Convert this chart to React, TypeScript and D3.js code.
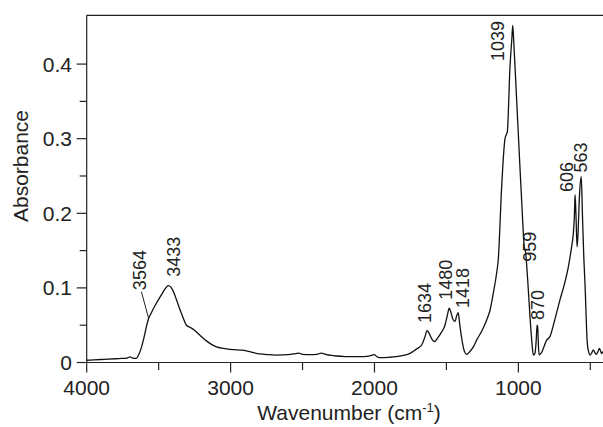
import React, { useEffect, useRef } from "react";
import * as d3 from "d3";

// spectrum (wavenumber cm-1, absorbance)
const wavenumbers = [
  4000, 3950, 3900, 3850, 3800, 3760, 3720, 3700, 3680, 3655, 3640, 3620, 3600, 3585, 3570,
  3555, 3520, 3480, 3450, 3433, 3415, 3395, 3376, 3350, 3330, 3307, 3280, 3249, 3210, 3168,
  3130, 3098, 3050, 3006, 2950, 2916, 2850, 2798, 2740, 2682, 2600, 2545, 2527, 2500, 2451,
  2400, 2370, 2340, 2300, 2266, 2200, 2105, 2040, 2001, 1985, 1966, 1900, 1850, 1800, 1753,
  1730, 1700, 1672, 1650, 1634, 1620, 1600, 1582, 1560, 1533, 1510, 1495, 1480, 1470, 1455,
  1440, 1430, 1418, 1408, 1390, 1375, 1360, 1340, 1310, 1290, 1255, 1220, 1197, 1174, 1151,
  1140, 1116, 1093, 1085, 1077, 1058, 1045, 1039, 1032, 1012, 989, 970, 962, 959, 950,
  935, 919, 905, 896, 885, 876, 870, 866, 860, 855, 840, 803, 780, 750, 711,
  680, 653, 630, 618, 610, 606, 600, 592, 585, 575, 563, 555, 545, 537, 521,
  510, 502, 490, 479, 470, 460, 448, 437, 428, 421, 410, 400,
];
const absorbance = [
  0.003, 0.0035, 0.004, 0.0045, 0.005, 0.0055, 0.006, 0.0075, 0.006, 0.0055, 0.01, 0.02, 0.035, 0.048, 0.059,
  0.065, 0.078, 0.091, 0.1, 0.103, 0.101, 0.094, 0.084, 0.07, 0.06, 0.05, 0.047, 0.043, 0.036, 0.029,
  0.024, 0.021, 0.019, 0.0177, 0.0168, 0.0165, 0.0135, 0.0115, 0.0105, 0.01, 0.0105, 0.012, 0.0125, 0.011, 0.0105,
  0.011, 0.0125, 0.011, 0.0095, 0.0087, 0.008, 0.0078, 0.0085, 0.0105, 0.008, 0.0065, 0.007, 0.0078, 0.0095, 0.0123,
  0.015, 0.019, 0.0235, 0.034, 0.0426, 0.039, 0.031, 0.028, 0.033, 0.041, 0.05, 0.062, 0.0727, 0.068, 0.058,
  0.055, 0.062, 0.0668, 0.052, 0.028, 0.015, 0.011, 0.014, 0.022, 0.03, 0.042, 0.057, 0.07, 0.093, 0.12,
  0.137, 0.236, 0.3, 0.305, 0.309, 0.397, 0.435, 0.452, 0.43, 0.352, 0.262, 0.19, 0.162, 0.155, 0.148,
  0.11, 0.061, 0.025, 0.01, 0.012, 0.03, 0.05, 0.048, 0.02, 0.01, 0.013, 0.03, 0.035, 0.055, 0.084,
  0.105, 0.128, 0.155, 0.173, 0.2, 0.225, 0.2, 0.155, 0.175, 0.225, 0.249, 0.2, 0.14, 0.106, 0.026,
  0.013, 0.01, 0.013, 0.017, 0.014, 0.011, 0.014, 0.019, 0.015, 0.012, 0.015, 0.017,
];

// peak annotations: label text, where the label sits (wavenumber, absorbance at its bottom end)
const peakLabels = ["3564", "3433", "1634", "1480", "1418", "1039", "959", "870", "606", "563"];
const labelWn = [3630, 3395, 1650, 1505, 1387, 1144, 922, 867, 666, 569];
const labelAbs = [0.097, 0.115, 0.053, 0.084, 0.073, 0.404, 0.135, 0.057, 0.2285, 0.2547];

// leader line for the 3564 shoulder
const leaderWn = [3620, 3570];
const leaderAbs = [0.095, 0.0594];

const xMajor = [4000, 3000, 2000, 1000];
const xMinor = [3500, 2500, 1500, 500];
const yMajor = [0, 0.1, 0.2, 0.3, 0.4];
const yMinor = [0.05, 0.15, 0.25, 0.35];

function App() {
  const ref = useRef<SVGSVGElement>(null);

  useEffect(() => {
    const svg = d3.select(ref.current);
    svg.selectAll("*").remove();

    const width = 603;
    const left = 86.7;
    const top = 15.3;
    const bottom = 362.5;
    const font = "'Liberation Sans', Arial, sans-serif";
    const ink = "#222";

    const x = d3.scaleLinear().domain([4000, 400]).range([left, 604.7]);
    const y = d3.scaleLinear().domain([0, 0.4654]).range([bottom, top]);

    const g = svg.append("g");

    // frame: left axis + top line + bottom axis
    g.append("line")
      .attr("x1", left).attr("x2", width + 2)
      .attr("y1", top).attr("y2", top)
      .attr("stroke", ink).attr("stroke-width", 1.2);
    g.append("line")
      .attr("x1", left).attr("x2", left)
      .attr("y1", top).attr("y2", bottom)
      .attr("stroke", ink).attr("stroke-width", 1.2);
    g.append("line")
      .attr("x1", left).attr("x2", width + 2)
      .attr("y1", bottom).attr("y2", bottom)
      .attr("stroke", ink).attr("stroke-width", 1.2);

    // x ticks
    g.selectAll("line.xmaj")
      .data(xMajor)
      .join("line")
      .attr("class", "xmaj")
      .attr("x1", d => x(d)).attr("x2", d => x(d))
      .attr("y1", bottom).attr("y2", bottom + 10)
      .attr("stroke", ink).attr("stroke-width", 1.2);
    g.selectAll("line.xmin")
      .data(xMinor)
      .join("line")
      .attr("class", "xmin")
      .attr("x1", d => x(d)).attr("x2", d => x(d))
      .attr("y1", bottom).attr("y2", bottom + 7.5)
      .attr("stroke", ink).attr("stroke-width", 1.2);
    g.selectAll("text.xlab")
      .data(xMajor)
      .join("text")
      .attr("class", "xlab")
      .attr("x", d => x(d))
      .attr("y", 395)
      .attr("text-anchor", "middle")
      .attr("font-family", font)
      .attr("font-size", 21)
      .attr("fill", ink)
      .text(d => d);

    // y ticks
    g.selectAll("line.ymaj")
      .data(yMajor)
      .join("line")
      .attr("class", "ymaj")
      .attr("x1", left - 10).attr("x2", left)
      .attr("y1", d => y(d)).attr("y2", d => y(d))
      .attr("stroke", ink).attr("stroke-width", 1.2);
    g.selectAll("line.ymin")
      .data(yMinor)
      .join("line")
      .attr("class", "ymin")
      .attr("x1", left - 7).attr("x2", left)
      .attr("y1", d => y(d)).attr("y2", d => y(d))
      .attr("stroke", ink).attr("stroke-width", 1.2);
    g.selectAll("text.ylab")
      .data(yMajor)
      .join("text")
      .attr("class", "ylab")
      .attr("x", 72)
      .attr("y", d => y(d))
      .attr("dy", "0.36em")
      .attr("text-anchor", "end")
      .attr("font-family", font)
      .attr("font-size", 21)
      .attr("fill", ink)
      .text(d => (d === 0 ? "0" : d3.format(".1f")(d)));

    // axis titles
    const xt = g.append("text")
      .attr("x", 349)
      .attr("y", 420)
      .attr("text-anchor", "middle")
      .attr("font-family", font)
      .attr("font-size", 21)
      .attr("fill", ink);
    xt.append("tspan").text("Wavenumber (cm");
    xt.append("tspan").attr("dy", -8).attr("font-size", 13).text("-1");
    xt.append("tspan").attr("dy", 8).text(")");

    g.append("text")
      .attr("transform", "translate(28,166) rotate(-90)")
      .attr("text-anchor", "middle")
      .attr("font-family", font)
      .attr("font-size", 21)
      .attr("fill", ink)
      .text("Absorbance");

    // spectrum
    const pts = wavenumbers.map((w, i) => [w, absorbance[i]] as [number, number]);
    const line = d3.line<[number, number]>()
      .x(d => x(d[0]))
      .y(d => y(d[1]))
      .curve(d3.curveMonotoneX);
    g.append("path")
      .datum(pts)
      .attr("d", line)
      .attr("fill", "none")
      .attr("stroke", "#111")
      .attr("stroke-width", 1.3)
      .attr("stroke-linejoin", "round");

    // leader
    g.append("line")
      .attr("x1", x(leaderWn[0])).attr("y1", y(leaderAbs[0]))
      .attr("x2", x(leaderWn[1])).attr("y2", y(leaderAbs[1]))
      .attr("stroke", ink).attr("stroke-width", 1);

    // peak labels
    g.selectAll("text.peak")
      .data(peakLabels)
      .join("text")
      .attr("class", "peak")
      .attr("transform", (d, i) => `translate(${x(labelWn[i])},${y(labelAbs[i])}) rotate(-90)`)
      .attr("dy", "0.36em")
      .attr("text-anchor", "start")
      .attr("font-family", font)
      .attr("font-size", 18)
      .attr("fill", ink)
      .text(d => d);
  }, []);

  return (
    <svg
      ref={ref}
      width={603}
      height={427}
      style={{ position: "absolute", left: 0, top: 0, background: "#fff" }}
    />
  );
}

export default App;
